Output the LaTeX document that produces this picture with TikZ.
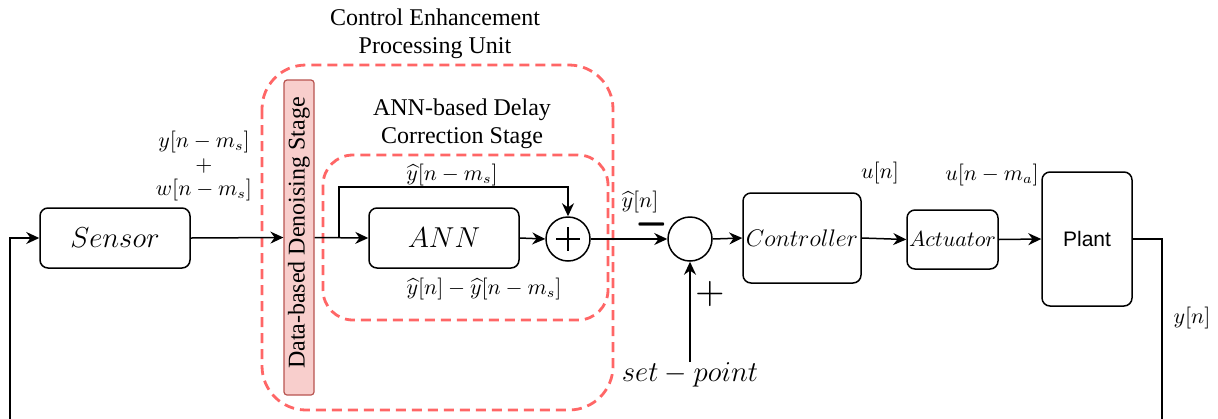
\documentclass[tikz,border=0pt]{standalone}
\usepackage{amsmath}
\usepackage{fontspec}
\setmainfont{Liberation Serif}
\newfontfamily\plantfont{Liberation Sans}
\usetikzlibrary{arrows.meta,calc}
\definecolor{dred}{RGB}{255,102,102}
\definecolor{barfill}{RGB}{248,206,204}
\definecolor{barline}{RGB}{184,84,80}
\tikzset{
  blk/.style={draw, line width=0.75pt, rounded corners=4pt, align=center, inner sep=0pt},
  sumc/.style={draw, circle, line width=0.75pt, minimum size=22pt, inner sep=0pt},
  arr/.style={line width=0.75pt, -{Stealth[length=6.5pt,width=6pt]}},
  ln/.style={line width=0.75pt},
  dbox/.style={draw=dred, line width=1.4pt, dash pattern=on 5pt off 3pt},
  lbl/.style={font=\fontsize{10.5}{12}\selectfont, inner sep=0pt, align=center},
  ttl/.style={font=\fontsize{12}{13.8}\selectfont, inner sep=0pt, align=center},
}
\begin{document}
\begin{tikzpicture}[x=0.5pt,y=-0.5pt]
\clip (0,0) rectangle (1218,418);
\useasboundingbox (0,0) rectangle (1218,418);

% blocks
\node[blk, minimum width=75pt, minimum height=30pt, font=\fontsize{14}{16}\selectfont] (sensor) at (115,238) {$Sensor$};
\node[blk, minimum width=75pt, minimum height=30pt, font=\fontsize{14}{16}\selectfont] (ann) at (444,238) {$ANN$};
\node[sumc] (plus1) at (568,239) {};
\node[sumc] (sum) at (690,239) {};
\node[blk, minimum width=59pt, minimum height=45pt, font=\fontsize{12}{14}\selectfont] (ctrl) at (802,238) {$Controller$};
\node[blk, minimum width=45.5pt, minimum height=29.5pt, font=\fontsize{10.5}{12}\selectfont] (act) at (952.5,239.5) {$Actuator$};
\node[blk, minimum width=45pt, minimum height=67pt, font=\plantfont\fontsize{10.5}{12}\selectfont] (plant) at (1087,239) {Plant};
\node[font=\fontsize{14}{16}\selectfont, inner sep=0pt, anchor=north] (sp) at (690,362) {$set-point$};

% plus sign in circle
\draw[ln] ($(plus1.center)+(-12,0)$) -- ($(plus1.center)+(12,0)$);
\draw[ln] ($(plus1.center)+(0,-12)$) -- ($(plus1.center)+(0,12)$);

% dashed group boxes
\draw[dbox, rounded corners=22pt] (262,65) rectangle (613,410);
\draw[dbox, rounded corners=15pt] (323,155) rectangle (608,320);

% denoising bar
\node[draw=barline, fill=barfill, line width=0.6pt, rounded corners=1.5pt, minimum width=15pt, minimum height=157.5pt, inner sep=0pt] (den) at (299,237.5) {};
\node[rotate=90, font=\fontsize{12}{14}\selectfont, inner sep=0pt] at (299,233) {Data-based Denoising Stage};

% connectors
\coordinate (br) at (339,238);
\coordinate (brtop) at (568,187);
\coordinate (fbR) at (1162,239);
\coordinate (fbRb) at (1162,430);
\coordinate (fbLb) at (10,430);
\coordinate (fbL) at (10,238);
\draw[arr] (sensor.east) -- (den.west);
\draw[arr] (den.east) -- (ann.west);
\draw[arr] (br) |- (brtop) -- (plus1.north);
\draw[arr] (ann.east) -- (plus1.west);
\draw[arr] (plus1.east) -- (sum.west);
\draw[arr] (sp.north) -- (sum.south);
\draw[arr] (sum.east) -- (ctrl.west);
\draw[arr] (ctrl.east) -- (act.west);
\draw[arr] (act.east) -- (plant.west);
\draw[arr] (plant.east) -- (fbR) -- (fbRb) -- (fbLb) -- (fbL) -- (sensor.west);

% titles
\node[ttl] (t1) at (435,34) {Control Enhancement\\Processing Unit};
\node[ttl] (t2) at (462,124) {ANN-based Delay\\Correction Stage};

% labels
\node[lbl] (l1) at (204,166) {$y[n-m_s]$\\$+$\\$w[n-m_s]$};
\node[lbl] (l2) at (452,175) {$\widehat{y}[n-m_s]$};
\node[lbl] (l3) at (484,289) {$\widehat{y}[n]-\widehat{y}[n-m_s]$};
\node[lbl] (l4) at (640,202) {$\widehat{y}[n]$};
\node[lbl] (l5) at (880,173) {$u[n]$};
\node[lbl] (l6) at (992,175) {$u[n-m_a]$};
\node[lbl] (l7) at (1192,318) {$y[n]$};
\node[inner sep=0pt, font=\fontsize{10}{12}\selectfont] (minus) at (652,224) {\scalebox{2.1}[4]{$-$}};
\node[inner sep=0pt, font=\fontsize{10}{12}\selectfont] (plus) at (710,294) {\scalebox{1.9}{$+$}};
\end{tikzpicture}
\end{document}
